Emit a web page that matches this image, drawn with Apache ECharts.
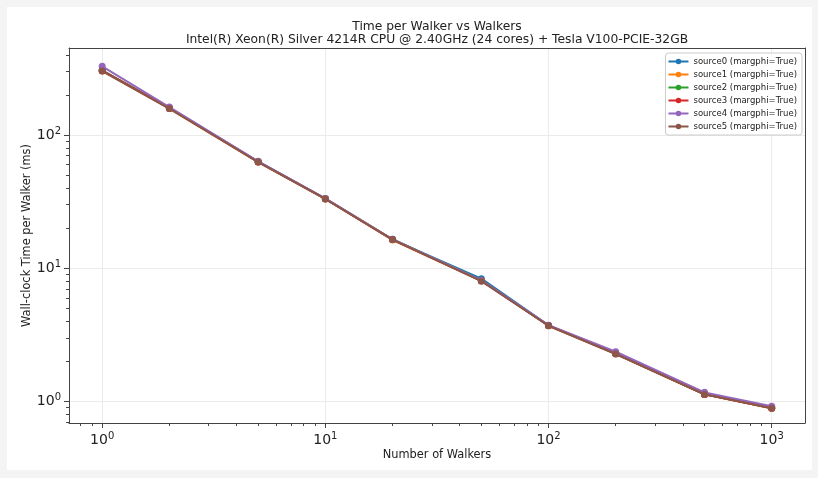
<!DOCTYPE html>
<html>
<head>
<meta charset="utf-8">
<script src="https://cdn.jsdelivr.net/npm/echarts@6/dist/echarts.min.js"></script>
<style>
  html, body { margin: 0; padding: 0; background: #f4f4f4; }
  #paper { position: absolute; left: 7px; top: 7px; width: 805px; height: 463px; background: #ffffff; }
  #chart { position: absolute; left: 0; top: 0; width: 818px; height: 478px; }
</style>
</head>
<body>
<div id="paper"></div>
<div id="chart"></div>
<script>
// ---- data ----
const walkers = [1, 2, 5, 10, 20, 50, 100, 200, 500, 1000];
const seriesNames = [
  'source0 (margphi=True)', 'source1 (margphi=True)', 'source2 (margphi=True)',
  'source3 (margphi=True)', 'source4 (margphi=True)', 'source5 (margphi=True)'
];
const source0 = [305, 159, 63.0, 33.2, 16.4, 8.35, 3.72, 2.29, 1.14, 0.895];
const source1 = [303, 158, 62.7, 33.1, 16.3, 8.05, 3.70, 2.28, 1.13, 0.890];
const source2 = [306, 160, 63.2, 33.3, 16.5, 8.10, 3.71, 2.29, 1.13, 0.893];
const source3 = [304, 159, 62.8, 33.2, 16.4, 8.05, 3.71, 2.28, 1.13, 0.890];
const source4 = [328, 162, 63.5, 33.4, 16.5, 8.10, 3.74, 2.36, 1.17, 0.920];
const source5 = [302, 158, 62.6, 33.1, 16.4, 8.00, 3.70, 2.27, 1.13, 0.890];
const colors = ['#1f77b4', '#ff7f0e', '#2ca02c', '#d62728', '#9467bd', '#8c564b'];

const xMajorTicks = [1, 10, 100, 1000];
const xMinorTicks = [0.8, 0.9, 2, 3, 4, 5, 6, 7, 8, 9, 20, 30, 40, 50, 60, 70, 80, 90,
  200, 300, 400, 500, 600, 700, 800, 900];
const yMajorTicks = [1, 10, 100];
const yMinorTicks = [0.7, 0.8, 0.9, 2, 3, 4, 5, 6, 7, 8, 9, 20, 30, 40, 50, 60, 70, 80, 90,
  200, 300, 400];
const xRange = [0.71, 1410];
const yRange = [0.689, 450];

// ---- chart ----
const allSeries = [source0, source1, source2, source3, source4, source5];
const axisColor = '#444';
const powLabel = function (v) {
  const e = Math.round(Math.log10(v));
  return '{b|10}{s|' + e + '}';
};
const labelRich = {
  b: { fontSize: 14, color: '#222', fontFamily: 'DejaVu Sans' },
  s: { fontSize: 10, color: '#222', fontFamily: 'DejaVu Sans', padding: [0, 0, 8, 0] }
};

function majorAxis(range, majors, extra) {
  return Object.assign({
    type: 'log', logBase: 10, min: range[0], max: range[1], gridIndex: 0,
    axisLine: { show: true, lineStyle: { color: axisColor, width: 1 } },
    axisTick: { show: true, customValues: majors, length: 5, lineStyle: { color: axisColor } },
    axisLabel: { show: true, customValues: majors, formatter: powLabel, rich: labelRich },
    splitLine: { show: true, lineStyle: { color: '#ebebeb', width: 1 } },
    minorTick: { show: false }, minorSplitLine: { show: false }
  }, extra);
}
function minorAxis(range, minors, extra) {
  return Object.assign({
    type: 'log', logBase: 10, min: range[0], max: range[1], gridIndex: 0,
    axisLine: { show: false },
    axisTick: { show: true, customValues: minors, length: 3, lineStyle: { color: axisColor } },
    axisLabel: { show: false },
    splitLine: { show: false }
  }, extra);
}
function frameAxis(range, extra) {
  return Object.assign({
    type: 'log', logBase: 10, min: range[0], max: range[1], gridIndex: 0, z: 10,
    axisLine: { show: true, lineStyle: { color: axisColor, width: 1 } },
    axisTick: { show: false }, axisLabel: { show: false }, splitLine: { show: false }
  }, extra);
}

const series = allSeries.map(function (vals, i) {
  return {
    name: seriesNames[i], type: 'line', xAxisIndex: 0, yAxisIndex: 0,
    data: walkers.map(function (w, j) { return [w, vals[j]]; }),
    symbol: 'circle', symbolSize: 7, showSymbol: true,
    lineStyle: { width: 2, color: colors[i] },
    itemStyle: { color: colors[i] },
    z: 2 + i, animation: false
  };
});

const option = {
  animation: false,
  textStyle: { fontFamily: 'DejaVu Sans' },
  title: {
    text: 'Time per Walker vs Walkers\nIntel(R) Xeon(R) Silver 4214R CPU @ 2.40GHz (24 cores) + Tesla V100-PCIE-32GB',
    left: 437, top: 20, textAlign: 'center', padding: 0,
    textStyle: { fontSize: 12.3, fontWeight: 'normal', color: '#222', lineHeight: 13.5, fontFamily: 'DejaVu Sans' }
  },
  grid: { left: 69, right: 13, top: 48, bottom: 55, containLabel: false },
  legend: {
    orient: 'vertical', right: 16, top: 53,
    data: seriesNames,
    itemWidth: 20, itemHeight: 7, itemGap: 4,
    textStyle: { fontSize: 8.5, color: '#222', fontFamily: 'DejaVu Sans', lineHeight: 9 },
    borderColor: '#cccccc', borderWidth: 1, borderRadius: 3,
    padding: [4, 5, 4, 2], backgroundColor: 'rgba(255,255,255,0.85)'
  },
  xAxis: [
    majorAxis(xRange, xMajorTicks, {
      position: 'bottom', name: 'Number of Walkers', nameLocation: 'middle', nameGap: 27,
      nameMoveOverlap: false,
      nameTextStyle: { fontSize: 11.4, color: '#222', fontFamily: 'DejaVu Sans' }
    }),
    minorAxis(xRange, xMinorTicks, { position: 'bottom' }),
    frameAxis(xRange, { position: 'top' })
  ],
  yAxis: [
    majorAxis(yRange, yMajorTicks, {
      position: 'left', name: 'Wall-clock Time per Walker (ms)', nameLocation: 'middle', nameGap: 36,
      nameMoveOverlap: false,
      nameTextStyle: { fontSize: 11.4, color: '#222', fontFamily: 'DejaVu Sans' }
    }),
    minorAxis(yRange, yMinorTicks, { position: 'left' }),
    frameAxis(yRange, { position: 'right' })
  ],
  series: series
};

const chart = echarts.init(document.getElementById('chart'), null, { renderer: 'canvas', width: 818, height: 478 });
chart.setOption(option);
</script>
</body>
</html>
